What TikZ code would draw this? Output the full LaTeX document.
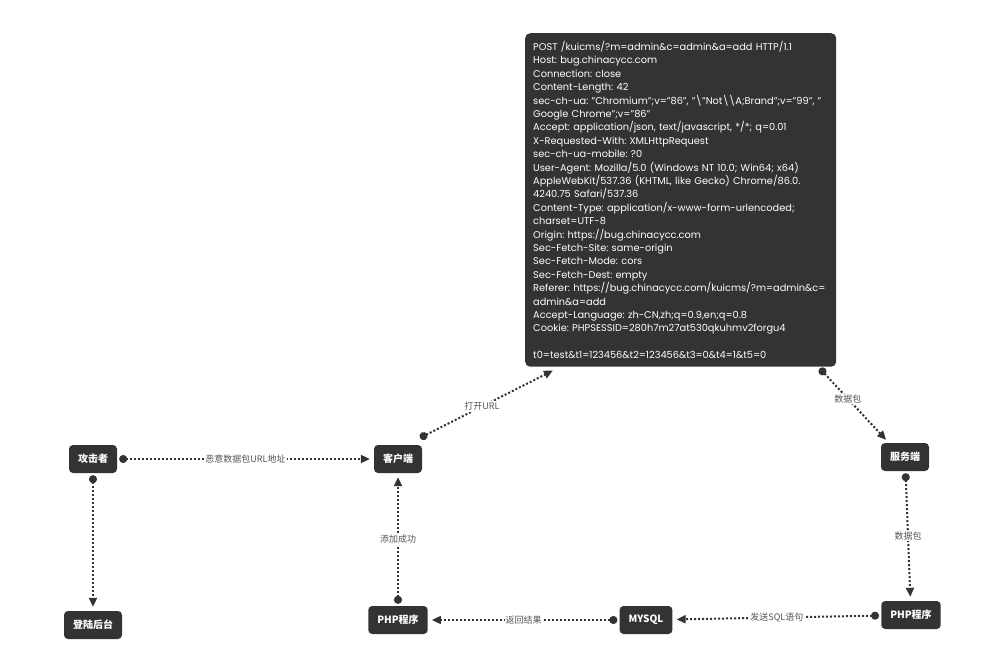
\documentclass[tikz,border=0pt]{standalone}
\usepackage{fontspec}
\setmainfont{Poppins}
\newfontfamily\cjk{Noto Sans CJK SC}
\usetikzlibrary{arrows.meta}
\definecolor{boxgray}{HTML}{333333}
\definecolor{labelgray}{HTML}{555555}
\tikzset{
  every picture/.style={line join=round, line cap=round, >=Stealth},
  actor/.style={fill=boxgray, rounded corners=4pt, text=white, font=\cjk\bfseries\fontsize{10}{12}\selectfont, inner xsep=9pt, minimum height=28pt},
  reqbox/.style={fill=boxgray, rounded corners=5pt, text=white, font=\fontsize{9.8}{13.4}\selectfont\frenchspacing, text width=295pt, align=left, inner xsep=8pt, inner ysep=8pt},
  flow/.style={draw=boxgray, line width=2pt, line cap=butt, dash pattern=on 2pt off 2pt, {Circle[length=8pt]}-{Triangle[length=9pt,width=8pt]}, shorten <=2pt, shorten >=4pt},
  flowlabel/.style={fill=white, text=labelgray, font=\cjk\fontsize{9}{10}\selectfont, inner sep=1pt},
}

\begin{document}
\begin{tikzpicture}[x=1pt,y=-1pt]
\useasboundingbox (0,0) rectangle (999,671);
% the request
\node[reqbox, anchor=north west] (req) at (525,33) {POST /kuicms/?m=admin\&c=admin\&a=add HTTP/1.1\\
Host: bug.chinacycc.com\\
Connection: close\\
Content-Length: 42\\
sec-ch-ua: "Chromium";v="86", "\textbackslash{}"Not\textbackslash\textbackslash{}A;Brand";v="99", "\\
Google Chrome";v="86"\\
Accept: application/json, text/javascript, */*; q=0.01\\
X-Requested-With: XMLHttpRequest\\
sec-ch-ua-mobile: ?0\\
User-Agent: Mozilla/5.0 (Windows NT 10.0; Win64; x64)\\
AppleWebKit/537.36 (KHTML, like Gecko) Chrome/86.0.\\
4240.75 Safari/537.36\\
Content-Type: application/x-www-form-urlencoded;\\
charset=UTF-8\\
Origin: https://bug.chinacycc.com\\
Sec-Fetch-Site: same-origin\\
Sec-Fetch-Mode: cors\\
Sec-Fetch-Dest: empty\\
Referer: https://bug.chinacycc.com/kuicms/?m=admin\&c=\\
admin\&a=add\\
Accept-Language: zh-CN,zh;q=0.9,en;q=0.8\\
Cookie: PHPSESSID=280h7m27at530qkuhmv2forgu4\\[13.4pt]
t0=test\&t1=123456\&t2=123456\&t3=0\&t4=1\&t5=0};
% the actors
\node[actor] (attacker) at (93,459) {攻击者};
\node[actor] (client) at (398,459) {客户端};
\node[actor] (login) at (93,625) {登陆后台};
\node[actor] (server) at (905,457) {服务端};
\node[actor] (phpB) at (911,615) {PHP程序};
\node[actor] (mysql) at (646,620) {MYSQL};
\node[actor] (phpA) at (398,620) {PHP程序};
% the flows
\draw[flow] (attacker) -- (client) node[flowlabel, pos=0.5] {恶意数据包URL地址};
\draw[flow] (attacker) -- (login);
\draw[flow, shorten >=8pt] ([xshift=-4pt,yshift=6pt]client.north east) -- ([xshift=35pt]req.south west) node[flowlabel, pos=0.45] {打开URL};
\draw[flow] ([xshift=-18pt]req.south east) -- ([xshift=8pt]server.north west) node[flowlabel, pos=0.42] {数据包};
\draw[flow] (server) -- (phpB) node[flowlabel, pos=0.5] {数据包};
\draw[flow] (phpB) -- (mysql) node[flowlabel, pos=0.5] {发送SQL语句};
\draw[flow] (mysql) -- (phpA) node[flowlabel, pos=0.5] {返回结果};
\draw[flow] (phpA) -- (client) node[flowlabel, pos=0.5] {添加成功};
\end{tikzpicture}
\end{document}
